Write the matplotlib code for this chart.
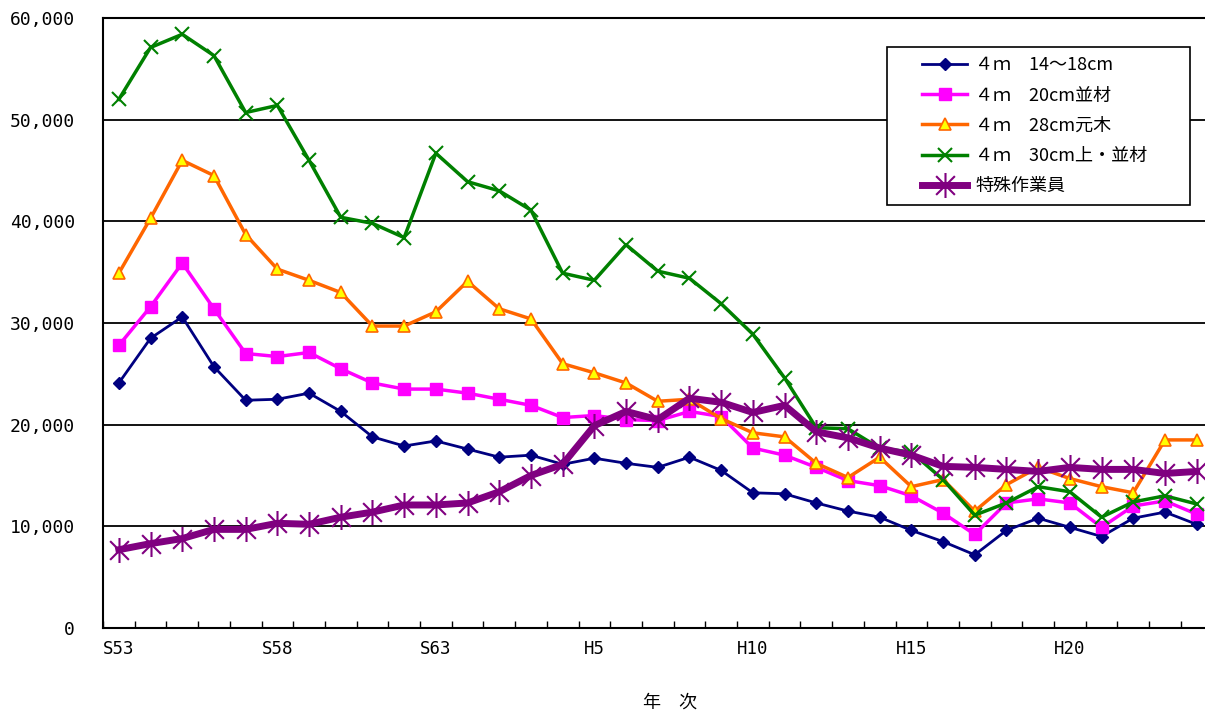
import matplotlib
matplotlib.use("Agg")
import matplotlib.pyplot as plt
from matplotlib.patches import Rectangle
from matplotlib.path import Path
from matplotlib.ticker import FuncFormatter, MultipleLocator
import numpy as np

plt.rcParams["font.family"] = ["Noto Sans CJK JP", "DejaVu Sans"]

YEARS = [f"S{n}" for n in range(53, 64)] + [f"H{n}" for n in range(1, 25)]
SHOWN_LABELS = ["S53", "S58", "S63", "H5", "H10", "H15", "H20"]

LOG_14_18 = [24100, 28500, 30600, 25700, 22400, 22500, 23100, 21300, 18800, 17900,
             18400, 17600, 16800, 17000, 16100, 16700, 16200, 15800, 16800, 15500,
             13300, 13200, 12300, 11500, 10900, 9600, 8500, 7200, 9600, 10800,
             9900, 9000, 10800, 11400, 10200]
LOG_20_NAMI = [27800, 31600, 35900, 31400, 27000, 26700, 27100, 25500, 24100, 23500,
               23500, 23100, 22500, 21900, 20700, 20900, 20500, 20400, 21300, 20800,
               17700, 17000, 15800, 14500, 14000, 13000, 11300, 9200, 12300, 12700,
               12300, 9900, 12000, 12500, 11200]
LOG_28_MOTO = [34900, 40300, 46000, 44500, 38700, 35300, 34200, 33000, 29700, 29700,
               31100, 34100, 31400, 30400, 26000, 25100, 24100, 22300, 22500, 20600,
               19200, 18800, 16200, 14800, 16800, 13900, 14600, 11500, 14100, 15800,
               14700, 13900, 13300, 18500, 18500]
LOG_30_JOU = [52000, 57100, 58400, 56300, 50700, 51400, 46000, 40400, 39800, 38400,
              46700, 43900, 43000, 41100, 34900, 34200, 37700, 35100, 34400, 31900,
              28900, 24600, 19700, 19600, 17700, 17300, 14600, 11100, 12300, 13900,
              13400, 10900, 12400, 13000, 12200]
WORKER = [7700, 8300, 8800, 9700, 9700, 10300, 10200, 10900, 11400, 12100,
          12100, 12300, 13400, 15000, 16100, 19900, 21300, 20500, 22600, 22200,
          21200, 21900, 19300, 18700, 17700, 17000, 15900, 15800, 15600, 15400,
          15800, 15600, 15600, 15200, 15400]

LABELS = ["４ｍ　14～18cm", "４ｍ　20cm並材", "４ｍ　28cm元木", "４ｍ　30cm上・並材", "特殊作業員"]

# Excel-like star: vertical bar plus an X
STAR = Path(
    [(0, -1), (0, 1), (-0.75, -0.75), (0.75, 0.75), (-0.75, 0.75), (0.75, -0.75)],
    [Path.MOVETO, Path.LINETO, Path.MOVETO, Path.LINETO, Path.MOVETO, Path.LINETO],
)

x = np.arange(len(YEARS))

fig = plt.figure(figsize=(12.05, 7.13), dpi=100)
ax = fig.add_axes([103 / 1205, 1 - 628 / 713, 1109.5 / 1205, 610 / 713])

ax.plot(x, LOG_14_18, color="#000080", lw=2, marker="D", ms=6, mfc="#000080", mec="#000080", label=LABELS[0], zorder=3)
ax.plot(x, LOG_20_NAMI, color="#FF00FF", lw=2.5, marker="s", ms=8, mfc="#FF00FF", mec="#FF00FF", label=LABELS[1], zorder=3)
ax.plot(x, LOG_28_MOTO, color="#FF6600", lw=2.5, marker="^", ms=9, mfc="#FFFF00", mec="#FF6600", mew=1.2, label=LABELS[2], zorder=3)
ax.plot(x, LOG_30_JOU, color="#008000", lw=2.5, marker="x", ms=10, mew=1.5, mec="#008000", label=LABELS[3], zorder=3)
ax.plot(x, WORKER, color="#800080", lw=5, marker=STAR, ms=18, mew=1.5, mec="#800080", mfc="none", label=LABELS[4], zorder=4)

ax.set_xlim(-0.5, len(YEARS) - 0.5)
ax.set_ylim(0, 60000)
ax.yaxis.set_major_locator(MultipleLocator(10000))
ax.yaxis.set_major_formatter(FuncFormatter(lambda v, p: f"{int(v):,}"))
ax.grid(axis="y", color="black", lw=1.3, zorder=1)
ax.tick_params(axis="y", length=0, pad=20)
for lab in ax.get_yticklabels():
    lab.set_family("DejaVu Sans Mono")
    lab.set_fontsize(13)

shown = [YEARS.index(s) for s in SHOWN_LABELS]
ax.set_xticks(shown)
ax.set_xticklabels(SHOWN_LABELS, family="DejaVu Sans Mono", fontsize=12.5)
ax.set_xticks(np.arange(-0.5, len(YEARS), 1.0), minor=True)
ax.tick_params(axis="x", which="major", length=0, pad=9)
ax.tick_params(axis="x", which="minor", direction="in", length=5, width=1, color="black")

for side in ax.spines.values():
    side.set_color("black")
    side.set_linewidth(1.5)

ax.set_xlabel("年　次", fontsize=13)
ax.xaxis.set_label_coords((670 - 103) / 1109.5, -(703 - 628) / 610, transform=ax.transAxes)
ax.xaxis.label.set_va("center")

# legend box, drawn as a white panel behind a frameless legend
box_x0 = (887 - 103) / 1109.5
box_y0 = (628 - 205) / 610
box_w = 303 / 1109.5
box_h = 158 / 610
ax.add_patch(Rectangle((box_x0, box_y0), box_w, box_h, transform=ax.transAxes,
                       facecolor="white", edgecolor="black", lw=1.2, zorder=5, clip_on=False))
leg = ax.legend(loc="upper left", bbox_to_anchor=((915 - 103) / 1109.5, (628 - 49) / 610),
                borderaxespad=0, frameon=False, fontsize=13, labelspacing=0.68,
                handlelength=2.5, handletextpad=0.45)
leg.set_zorder(6)

fig.savefig("out.png", dpi=100)
